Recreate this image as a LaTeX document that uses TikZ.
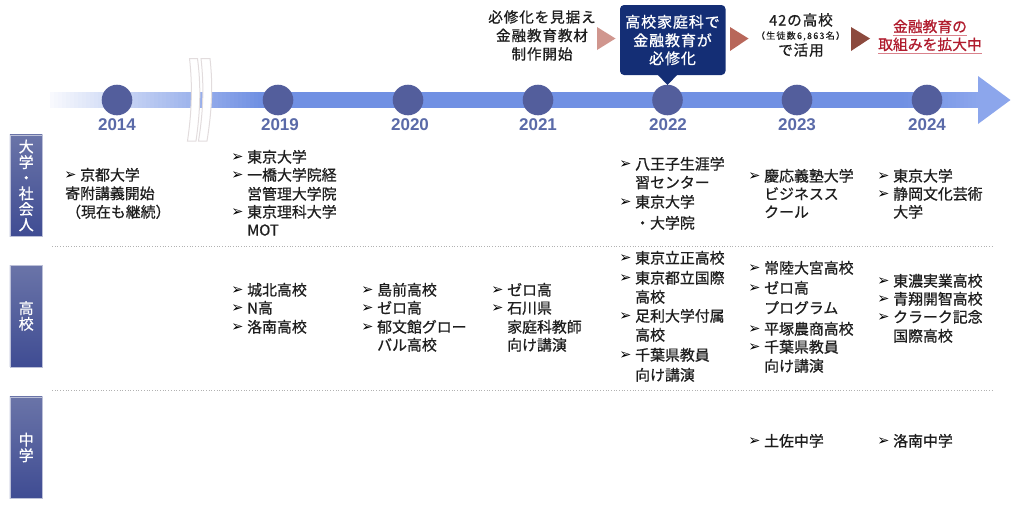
\documentclass[tikz,border=0pt]{standalone}
\usepackage{fontspec}
\setmainfont{Noto Sans CJK JP}[FakeBold=0.8]
\newfontfamily\jpwide{Noto Sans CJK JP}[FakeBold=0.8,LetterSpace=6]
\newfontfamily\jpsmall{Noto Sans CJK JP}[FakeBold=0.2,LetterSpace=14]
\newfontfamily\yearfont{Liberation Sans}
\newfontfamily\symfont{DejaVu Sans}
\definecolor{barblue}{HTML}{7090E3}
\definecolor{barend}{HTML}{8CA6EC}
\definecolor{dot}{HTML}{535E9C}
\definecolor{yearc}{HTML}{5A6AA8}
\definecolor{navy}{HTML}{142E75}
\definecolor{txt}{HTML}{1E1E1E}
\definecolor{redt}{HTML}{B01C2E}
\definecolor{redu}{HTML}{D9828C}
\definecolor{sidetop}{HTML}{6A74A8}
\definecolor{sidebot}{HTML}{3F4C93}
\definecolor{tria}{HTML}{D0968E}
\definecolor{trib}{HTML}{B8675A}
\definecolor{tric}{HTML}{8C4A3E}
\definecolor{stripc}{HTML}{E2DCDD}
\newcounter{ln}
\newcommand{\tl}[3]{\stepcounter{ln}\node[line] (t\theln) at (#1,#2) {#3};}
\newcommand{\bl}[3]{\stepcounter{ln}\node[bul] (b\theln) at (#1-14,#2) {\symfont\char"27A2};\node[line] (t\theln) at (#1,#2) {#3};}
\newcommand{\yr}[3]{\node[yearlabel] (#1) at (#2,125) {#3};}
\tikzset{
 line/.style={anchor=west,inner sep=0pt,text=txt,font=\fontsize{14.9}{16}\selectfont,text height=11pt,text depth=2pt},
 bul/.style={anchor=center,inner sep=0pt,xshift=4.5pt,text=black,font=\fontsize{14.5}{15}\selectfont},
 yearlabel/.style={inner sep=0pt,text=yearc,font=\yearfont\bfseries\fontsize{17}{18}\selectfont},
 circ/.style={circle,fill=dot,minimum size=30.6pt,inner sep=0pt},
 sidebox/.style={minimum width=32.5pt,inner sep=0pt,top color=sidetop,bottom color=sidebot,draw=sidetop!45,line width=.5pt,text=white,align=center,font=\fontsize{15}{15.6}\selectfont},
 note/.style={inner sep=0pt,text=txt,font=\jpwide\fontsize{14.6}{16}\selectfont,text height=11pt,text depth=2pt},
 callt/.style={inner sep=0pt,text=white,font=\jpwide\fontsize{15}{16}\selectfont,text height=11pt,text depth=2pt},
 redn/.style={inner sep=0pt,text=redt,font=\fontsize{14.8}{16}\selectfont,text height=11pt,text depth=3pt},
 sep/.style={draw=black!30,line width=.7pt,dotted},
 strip/.style={fill=white,draw=stripc,line width=1pt},
}
\begin{document}
\begin{tikzpicture}[x=1pt,y=-1pt]
\useasboundingbox (0,0) rectangle (1024,504);
% timeline
\fill[barblue] (262,92) rectangle (900,108);
\foreach \i in {0,...,52} {
  \pgfmathsetmacro{\p}{5+95*\i/52}
  \pgfmathsetmacro{\xa}{50+4*\i}
  \pgfmathsetmacro{\xb}{50+4*\i+4.5}
  \fill[barblue!\p!white] (\xa,92) rectangle (\xb,108);
}
\foreach \i in {0,...,19} {
  \pgfmathsetmacro{\p}{100-100*\i/19}
  \pgfmathsetmacro{\xa}{899.5+4*\i}
  \pgfmathsetmacro{\xb}{899.5+4*\i+4.5}
  \fill[barblue!\p!barend] (\xa,92) rectangle (\xb,108);
}
\fill[barend] (978,76) -- (1010.5,100) -- (978,124) -- cycle;
% break mark
\path[strip] (189.5,58.5) .. controls (192.5,85) and (192,110) .. (187.5,141) -- (196,141) .. controls (200.5,110) and (201,85) .. (197.5,58.5) -- cycle;
\path[strip] (201,58.5) .. controls (204,85) and (203.5,110) .. (198.5,141) -- (207,141) .. controls (212,110) and (213,85) .. (210,58.5) -- cycle;
% circles
\foreach \n/\x in {2014/117,2019/278,2020/408,2021/538,2022/667.5,2023/797,2024/927}
  \node[circ] (c\n) at (\x,100) {};
\yr{y14}{117}{2014}\yr{y19}{280}{2019}\yr{y20}{410}{2020}\yr{y21}{538}{2021}\yr{y22}{668}{2022}\yr{y23}{797}{2023}\yr{y24}{927}{2024}
% top notes
\node[note] (n1) at (542,18) {必修化を見据え};
\node[note] (n2) at (542,36.5) {金融教育教材};
\node[note] (n3) at (542,55) {制作開始};
\fill[tria] (597,27) -- (615.5,38.5) -- (597,50) -- cycle;
\fill[navy,rounded corners=4pt] (620,5) rectangle (725.5,75);
\fill[navy] (657,74) -- (667.5,85) -- (678,74) -- cycle;
\node[callt] (k1) at (672.5,23) {高校家庭科で};
\node[callt] (k2) at (672.5,41.5) {金融教育が};
\node[callt] (k3) at (672.5,59.5) {必修化};
\fill[trib] (730,27) -- (748.5,38.5) -- (730,51) -- cycle;
\node[note] (m1) at (801,21) {42の高校};
\node[inner sep=0pt,text=txt,font=\jpsmall\fontsize{9}{10}\selectfont] (m2) at (800.5,36) {（生徒数6,863名）};
\node[note] (m3) at (801,51) {で活用};
\fill[tric] (851,27) -- (870,38.5) -- (851,51) -- cycle;
\node[redn] (r1) at (930,28) {金融教育の};
\node[redn] (r2) at (930,46) {取組みを拡大中};
\draw[redu,line width=1pt] (r1.south west) -- (r1.south east);
\draw[redu,line width=1pt] (r2.south west) -- (r2.south east);
% side labels
\node[sidebox,minimum height=101.5pt] (s1) at (26.2,185.5) {大\\学\\・\\社\\会\\人};
\node[sidebox,minimum height=101.5pt] (s2) at (26.2,316) {高\\校};
\node[sidebox,minimum height=101.5pt] (s3) at (26.2,447.5) {中\\学};
% separators
\coordinate (la) at (52,246.5); \coordinate (lb) at (994,246.5);
\coordinate (lc) at (52,390.5); \coordinate (ld) at (994,390.5);
\draw[sep] (la) -- (lb);
\draw[sep] (lc) -- (ld);
% 2014
\bl{80}{176}{京都大学}
\tl{65}{194.5}{寄附講義開始}
\tl{66}{213}{（現在も継続）}
% 2019
\bl{247}{158}{東京大学}
\bl{247}{176}{一橋大学院経}
\tl{247}{195}{営管理大学院}
\bl{247}{213}{東京理科大学}
\tl{247}{231}{MOT}
\bl{247}{291}{城北高校}
\bl{247}{309}{N高}
\bl{247}{328}{洛南高校}
% 2020
\bl{377}{291}{島前高校}
\bl{377}{309}{ゼロ高}
\bl{377}{328}{郁文館グロー}
\tl{377}{346}{バル高校}
% 2021
\bl{507}{291}{ゼロ高}
\bl{507}{309}{石川県}
\tl{507}{328}{家庭科教師}
\tl{507}{346}{向け講演}
% 2022
\bl{635}{165}{八王子生涯学}
\tl{635}{183.5}{習センター}
\bl{635}{203}{東京大学}
\tl{635}{224}{・大学院}
\bl{635}{259}{東京立正高校}
\bl{635}{279}{東京都立国際}
\tl{635}{298}{高校}
\bl{635}{317}{足利大学付属}
\tl{635}{336}{高校}
\bl{635}{356}{千葉県教員}
\tl{635}{376}{向け講演}
% 2023
\bl{764}{177}{慶応義塾大学}
\tl{764}{195}{ビジネスス}
\tl{764}{213}{クール}
\bl{764}{269}{常陸大宮高校}
\bl{764}{289}{ゼロ高}
\tl{764}{309}{プログラム}
\bl{764}{330}{平塚農商高校}
\bl{764}{348}{千葉県教員}
\tl{764}{367}{向け講演}
\bl{764}{442}{土佐中学}
% 2024
\bl{893}{177}{東京大学}
\bl{893}{195}{静岡文化芸術}
\tl{893}{213}{大学}
\bl{893}{282}{東濃実業高校}
\bl{893}{300}{青翔開智高校}
\bl{893}{318}{クラーク記念}
\tl{893}{337}{国際高校}
\bl{893}{442}{洛南中学}
\end{tikzpicture}
\end{document}
